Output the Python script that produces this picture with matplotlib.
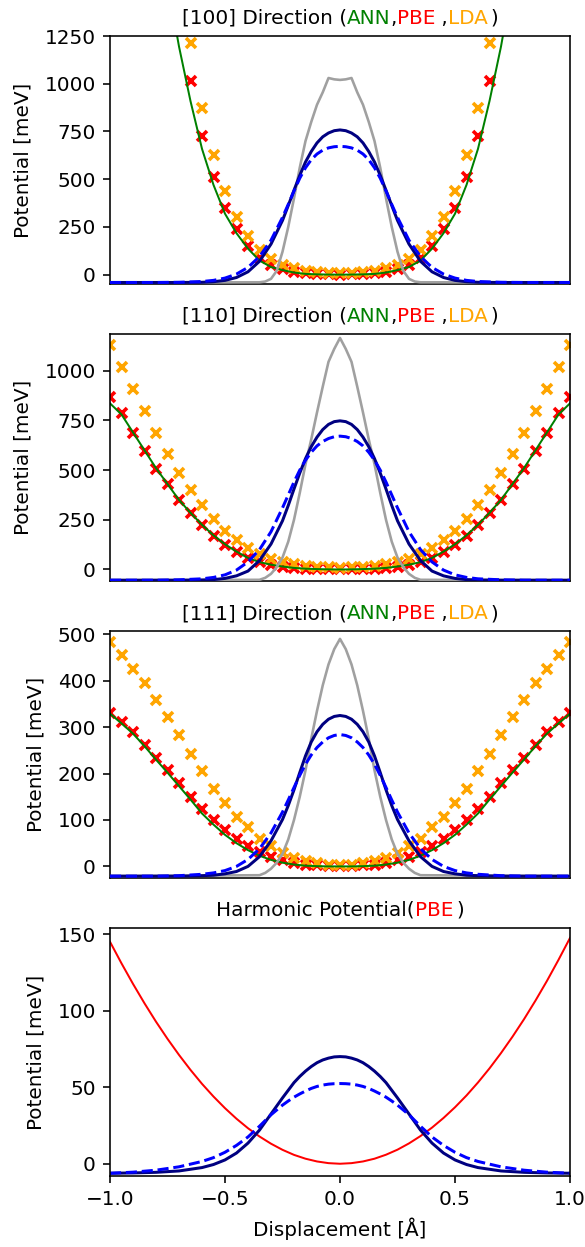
import matplotlib
matplotlib.use("Agg")
import matplotlib.pyplot as plt

# ---------------- data ----------------
x_markers_100 = [-0.65, -0.6, -0.55, -0.5, -0.45, -0.4, -0.35, -0.3, -0.25, -0.2, -0.15, -0.1, -0.05, 0.0,
                 0.05, 0.1, 0.15, 0.2, 0.25, 0.3, 0.35, 0.4, 0.45, 0.5, 0.55, 0.6, 0.65]
x_full = [-1.0, -0.95, -0.9, -0.85, -0.8, -0.75, -0.7, -0.65, -0.6, -0.55, -0.5, -0.45, -0.4, -0.35, -0.3,
          -0.25, -0.2, -0.15, -0.1, -0.05, 0.0, 0.05, 0.1, 0.15, 0.2, 0.25, 0.3, 0.35, 0.4, 0.45, 0.5,
          0.55, 0.6, 0.65, 0.7, 0.75, 0.8, 0.85, 0.9, 0.95, 1.0]
x_ann_100 = [-0.72, -0.7, -0.65, -0.6, -0.55, -0.5, -0.45, -0.4, -0.35, -0.3, -0.25, -0.2, -0.15, -0.1, -0.05, 0.0,
             0.05, 0.1, 0.15, 0.2, 0.25, 0.3, 0.35, 0.4, 0.45, 0.5, 0.55, 0.6, 0.65, 0.7, 0.72]
x_wave = [-1.0, -0.9, -0.8, -0.7, -0.6, -0.55, -0.5, -0.45, -0.4, -0.35, -0.3, -0.25, -0.225, -0.2, -0.175,
          -0.15, -0.125, -0.1, -0.075, -0.05, -0.025, 0.0, 0.025, 0.05, 0.075, 0.1, 0.125, 0.15, 0.175, 0.2,
          0.225, 0.25, 0.3, 0.35, 0.4, 0.45, 0.5, 0.55, 0.6, 0.7, 0.8, 0.9, 1.0]
x_grey = [-1.0, -0.35, -0.325, -0.3, -0.275, -0.25, -0.225, -0.2, -0.175, -0.15, -0.125, -0.1, -0.075, -0.05, -0.025,
          0.0, 0.025, 0.05, 0.075, 0.1, 0.125, 0.15, 0.175, 0.2, 0.225, 0.25, 0.275, 0.3, 0.325, 0.35, 1.0]

# [100] direction
pbe_100 = [1014, 726, 513, 347, 237, 150, 88, 51, 28, 14, 7, 3, 1, 0,
           1, 3, 7, 14, 28, 51, 88, 150, 237, 347, 513, 726, 1014]
lda_100 = [1211, 874, 625, 440, 304, 202, 130, 80, 52, 36, 20, 12, 8, 6,
           8, 12, 20, 36, 52, 80, 130, 202, 304, 440, 625, 874, 1211]
ann_100 = [1330, 1195, 909, 659, 470, 319, 217, 136, 74, 40, 24, 11, 4, 1.5, 0.5, 0,
           0.5, 1.5, 4, 11, 24, 40, 74, 136, 217, 319, 470, 659, 909, 1195, 1330]
grey_100 = [-41, -40, -36, -22, 20, 120, 250, 400, 560, 700, 800, 890, 955, 1030, 1023,
            1020, 1023, 1030, 955, 890, 800, 700, 560, 400, 250, 120, 20, -22, -36, -40, -41]
navy_100 = [-41, -41, -41, -41, -40, -37, -30, -15, 15, 70, 160, 284, 362, 442, 520, 590, 645, 690, 722, 742, 754,
            758, 754, 742, 722, 690, 645, 590, 520, 442, 362, 284, 160, 70, 15, -15, -30, -37, -40, -41, -41, -41, -41]
blue_100 = [-41, -41, -41, -40, -36, -30, -18, 3, 38, 95, 180, 300, 368, 438, 505, 560, 602, 632, 652, 664, 670,
            672, 670, 664, 652, 632, 602, 560, 505, 438, 368, 300, 180, 95, 38, 3, -18, -30, -36, -40, -41, -41, -41]

# [110] direction
pbe_110 = [869, 785, 688, 597, 508, 430, 349, 282, 223, 168, 122, 88, 58, 38, 22, 12, 6, 2, 1, 0, 0,
           0, 1, 2, 6, 12, 22, 38, 58, 88, 122, 168, 223, 282, 349, 430, 508, 597, 688, 785, 869]
lda_110 = [1129, 1020, 906, 799, 685, 580, 483, 399, 324, 252, 195, 148, 106, 80, 55, 39, 28, 20, 14, 10, 8,
           10, 14, 20, 28, 39, 55, 80, 106, 148, 195, 252, 324, 399, 483, 580, 685, 799, 906, 1020, 1129]
ann_110 = [836, 780, 690, 600, 510, 430, 350, 285, 225, 172, 127, 90, 58, 37, 24, 15, 8, 4, 2, 0.5, 0,
           0.5, 2, 4, 8, 15, 24, 37, 58, 90, 127, 172, 225, 285, 350, 430, 510, 600, 690, 780, 836]
grey_110 = [-54, -52, -42, -22, 12, 60, 140, 250, 385, 530, 655, 790, 920, 1045, 1110,
            1165, 1110, 1045, 920, 790, 655, 530, 385, 250, 140, 60, 12, -22, -42, -52, -54]
navy_110 = [-54, -54, -54, -54, -53, -51, -45, -32, -8, 45, 128, 245, 322, 405, 485, 558, 618, 666, 704, 730, 744,
            748, 744, 730, 704, 666, 618, 558, 485, 405, 322, 245, 128, 45, -8, -32, -45, -51, -53, -54, -54, -54, -54]
blue_110 = [-54, -54, -54, -52, -47, -40, -27, -3, 38, 100, 190, 310, 375, 440, 500, 550, 590, 622, 644, 659, 668,
            671, 668, 659, 644, 622, 590, 550, 500, 440, 375, 310, 190, 100, 38, -3, -27, -40, -47, -52, -54, -54, -54]

# [111] direction
pbe_111 = [331, 312, 289, 262, 234, 207, 179, 150, 124, 100, 79, 59, 43, 31, 21, 14, 7, 4, 2, 1, 0,
           1, 2, 4, 7, 14, 21, 31, 43, 59, 79, 100, 124, 150, 179, 207, 234, 262, 289, 312, 331]
lda_111 = [484, 455, 426, 396, 359, 321, 284, 242, 205, 166, 136, 107, 84, 60, 43, 29, 19, 12, 7, 4, 3,
           4, 7, 12, 19, 29, 43, 60, 84, 107, 136, 166, 205, 242, 284, 321, 359, 396, 426, 455, 484]
ann_111 = [329, 308, 286, 259, 230, 202, 173, 144, 114, 90, 68, 50, 35, 23, 14, 8, 4, 1.5, 0.5, 0, 0,
           0, 0.5, 1.5, 4, 8, 14, 23, 35, 50, 68, 90, 114, 144, 173, 202, 230, 259, 286, 308, 329]
grey_111 = [-21, -19, -14, -5, 8, 27, 58, 100, 150, 207, 275, 335, 390, 435, 468,
            490, 468, 435, 390, 335, 275, 207, 150, 100, 58, 27, 8, -5, -14, -19, -21]
navy_111 = [-21, -21, -21, -21, -20, -19, -16, -11, 0, 21, 55, 101, 131, 165, 202, 238, 268, 290, 306, 317, 323,
            325, 323, 317, 306, 290, 268, 238, 202, 165, 131, 101, 55, 21, 0, -11, -16, -19, -20, -21, -21, -21, -21]
blue_111 = [-21, -21, -21, -20, -17, -14, -9, 0, 15, 38, 72, 117, 143, 170, 196, 220, 240, 256, 268, 277, 282,
            284, 282, 277, 268, 256, 240, 220, 196, 170, 143, 117, 72, 38, 15, 0, -9, -14, -17, -20, -21, -21, -21]

# Harmonic potential (PBE)
harm_pbe = [145.0, 130.9, 117.5, 104.8, 92.8, 81.6, 71.1, 61.3, 52.2, 43.9, 36.3, 29.4, 23.2, 17.8, 13.1,
            9.1, 5.8, 3.3, 1.5, 0.4, 0.0, 0.4, 1.5, 3.3, 5.9, 9.2, 13.3, 18.1, 23.6, 29.9, 36.9,
            44.6, 53.1, 62.3, 72.3, 83.0, 94.4, 106.6, 119.5, 133.2, 147.5]
navy_harm = [-6.2, -6.0, -5.6, -4.7, -2.5, -0.5, 2.5, 7, 13.5, 22, 32.5, 43, 48, 53, 57, 60.5, 63.5, 66, 67.8, 69,
             69.8, 70, 69.8, 69, 67.8, 66, 63.5, 60.5, 57, 53, 48, 43, 32.5, 22, 13.5, 7, 2.5, -0.5, -2.5, -4.7,
             -5.6, -6.0, -6.2]
blue_harm = [-6.2, -5.5, -4.2, -2, 1.5, 4, 7.5, 12, 17.5, 24.5, 32, 38.3, 41, 43.5, 45.6, 47.5, 49.2, 50.5, 51.4,
             52, 52.3, 52.4, 52.3, 52, 51.4, 50.5, 49.2, 47.5, 45.6, 43.5, 41, 38.3, 32, 24.5, 17.5, 12, 7.5, 4,
             1.5, -2, -4.2, -5.5, -6.2]

yticks_100 = [0, 250, 500, 750, 1000, 1250]
yticks_110 = [0, 250, 500, 750, 1000]
yticks_111 = [0, 100, 200, 300, 400, 500]
yticks_harm = [0, 50, 100, 150]
xticks = [-1.0, -0.5, 0.0, 0.5, 1.0]

# ---------------- figure ----------------
DPI = 144
FS = 10
W, H = 585, 1247
fig = plt.figure(figsize=(W / DPI, H / DPI), dpi=DPI)
renderer = fig.canvas.get_renderer()

left_px, right_px = 110, 570
panels_px = [(36, 284), (334, 581), (631, 878), (928, 1176)]


def make_ax(top, bottom):
    return fig.add_axes([left_px / W, 1 - bottom / H, (right_px - left_px) / W, (bottom - top) / H])


def text_width(s):
    if not s:
        return 0.0
    t = fig.text(0, 0, s, fontsize=FS)
    w = t.get_window_extent(renderer).width
    t.remove()
    return w


def colored_title(ax, pieces, close_gap_px=3.0, rise_px=12.0):
    full = "".join(p[0] for p in pieces)
    total = text_width(full) + close_gap_px
    prefix = ""
    for i, (s, c) in enumerate(pieces):
        off = text_width(prefix)
        if i == len(pieces) - 1:
            off += close_gap_px
        dx_pt = (off - total / 2.0) * 72.0 / DPI
        ax.annotate(s, xy=(0.5, 1.0), xycoords="axes fraction",
                    xytext=(dx_pt, rise_px * 72.0 / DPI), textcoords="offset points",
                    ha="left", va="baseline", fontsize=FS, color=c, annotation_clip=False)
        prefix += s


def dft_panel(ax, pbe, lda, xm, ann, xa, grey, navy, blue, ylim, yticks, label):
    ax.plot(xm, pbe, ls="none", marker="x", ms=5.0, mew=1.8, color="red", zorder=2)
    ax.plot(xm, lda, ls="none", marker="x", ms=5.0, mew=1.8, color="orange", zorder=2)
    ax.plot(xa, ann, color="green", lw=1.0, zorder=2.5)
    ax.plot(x_grey, grey, color="#a0a0a0", lw=1.3, zorder=2.6)
    ax.plot(x_wave, navy, color="navy", lw=1.5, zorder=2.7)
    ax.plot(x_wave, blue, color="blue", lw=1.5, ls="--", zorder=2.8)
    ax.set_xlim(-1, 1)
    ax.set_ylim(*ylim)
    ax.set_yticks(yticks)
    ax.set_xticks([])
    ax.tick_params(labelsize=FS)
    ax.set_ylabel("Potential [meV]", fontsize=FS, labelpad=6)
    colored_title(ax, [("[%s] Direction (" % label, "black"), ("ANN", "green"), (",", "black"),
                       ("PBE", "red"), (" ,", "black"), ("LDA", "orange"), (")", "black")])


ax1 = make_ax(*panels_px[0])
dft_panel(ax1, pbe_100, lda_100, x_markers_100, ann_100, x_ann_100, grey_100, navy_100, blue_100,
          (-49, 1250), yticks_100, "100")
ax2 = make_ax(*panels_px[1])
dft_panel(ax2, pbe_110, lda_110, x_full, ann_110, x_full, grey_110, navy_110, blue_110,
          (-58, 1185), yticks_110, "110")
ax3 = make_ax(*panels_px[2])
dft_panel(ax3, pbe_111, lda_111, x_full, ann_111, x_full, grey_111, navy_111, blue_111,
          (-25, 507), yticks_111, "111")

ax4 = make_ax(*panels_px[3])
ax4.plot(x_full, harm_pbe, color="red", lw=1.0)
ax4.plot(x_wave, navy_harm, color="navy", lw=1.5)
ax4.plot(x_wave, blue_harm, color="blue", lw=1.5, ls="--")
ax4.set_xlim(-1, 1)
ax4.set_ylim(-8, 154)
ax4.set_yticks(yticks_harm)
ax4.set_xticks(xticks)
ax4.tick_params(labelsize=FS)
ax4.set_ylabel("Potential [meV]", fontsize=FS, labelpad=6)
ax4.set_xlabel("Displacement [Å]", fontsize=FS)
colored_title(ax4, [("Harmonic Potential(", "black"), ("PBE", "red"), (")", "black")])

fig.savefig("out.png", dpi=DPI)
